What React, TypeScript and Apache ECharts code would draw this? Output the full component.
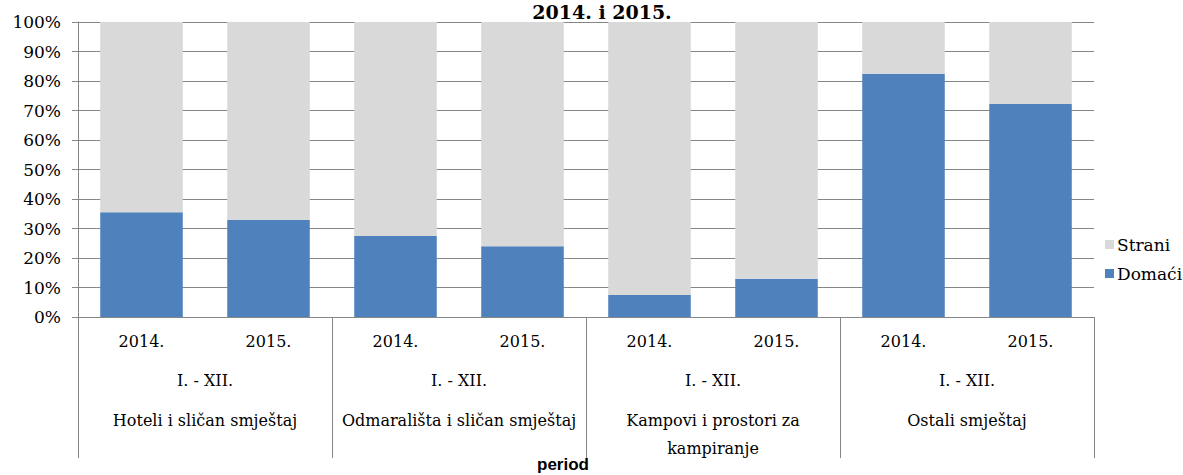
import React, { useEffect, useRef } from "react";
import * as echarts from "echarts";

const years = ["2014.", "2015.", "2014.", "2015.", "2014.", "2015.", "2014.", "2015."];
const periods = ["I. - XII.", "I. - XII.", "I. - XII.", "I. - XII."];
const groups = [
  "Hoteli i sličan smještaj",
  "Odmarališta i sličan smještaj",
  "Kampovi i prostori za\nkampiranje",
  "Ostali smještaj",
];
const domaci = [35.5, 33, 27.5, 24, 7.5, 13, 82.5, 72.2];
const strani = [64.5, 67, 72.5, 76, 92.5, 87, 17.5, 27.8];

const SERIF = "DejaVu Serif";
const GRAY = "#868686";
const FS = 17;
const XFS = 16;

export default function App() {
  const ref = useRef<HTMLDivElement>(null);
  useEffect(() => {
    document.body.style.margin = "0";
    const chart = echarts.init(ref.current!, undefined, { renderer: "svg" });
    chart.setOption({
      animation: false,
      textStyle: { fontFamily: SERIF },
      title: {
        text: "2014. i 2015.",
        left: 597,
        textAlign: "center",
        top: -3,
        textStyle: { fontFamily: SERIF, fontSize: 19, fontWeight: "bold", color: "#000" },
      },
      legend: {
        orient: "vertical",
        left: 1100,
        top: 231,
        data: ["Strani", "Domaći"],
        icon: "rect",
        itemWidth: 9,
        itemHeight: 9,
        itemGap: 12,
        textStyle: { fontFamily: SERIF, fontSize: FS, color: "#000", padding: [0, 0, 0, -2] },
      },
      grid: { left: 78, right: 89, top: 22, bottom: 158 },
      xAxis: [
        {
          type: "category",
          data: years,
          position: "bottom",
          axisLine: { show: true, lineStyle: { color: GRAY, width: 1 } },
          axisTick: { show: false },
          axisLabel: { interval: 0, margin: 16, fontSize: XFS, color: "#000", fontFamily: SERIF },
        },
        {
          type: "category",
          data: periods,
          position: "bottom",
          axisLine: { show: false },
          axisTick: { show: true, length: 141, interval: 0, lineStyle: { color: GRAY, width: 1 } },
          axisLabel: { interval: 0, margin: 55, fontSize: XFS, color: "#000", fontFamily: SERIF },
        },
        {
          type: "category",
          data: groups,
          position: "bottom",
          axisLine: { show: false },
          axisTick: { show: false },
          axisLabel: {
            interval: 0,
            margin: 89,
            fontSize: XFS,
            lineHeight: 28,
            color: "#000",
            fontFamily: SERIF,
          },
        },
      ],
      yAxis: {
        type: "value",
        min: 0,
        max: 100,
        interval: 10,
        axisLine: { show: true, lineStyle: { color: GRAY, width: 1 } },
        axisTick: { show: true, length: 6, lineStyle: { color: GRAY } },
        splitLine: { show: true, lineStyle: { color: GRAY, width: 1 } },
        axisLabel: {
          formatter: "{value}%",
          fontSize: FS,
          color: "#000",
          fontFamily: SERIF,
          margin: 17,
        },
      },
      graphic: [
        {
          type: "text",
          x: 563,
          y: 456,
          style: {
            text: "period",
            fontFamily: "Liberation Sans",
            fontWeight: "bold",
            fontSize: 17,
            fill: "#000",
            textAlign: "center",
          },
        },
      ],
      series: [
        {
          name: "Domaći",
          type: "bar",
          stack: "total",
          barWidth: "65%",
          data: domaci,
          itemStyle: { color: "#4F81BD" },
        },
        {
          name: "Strani",
          type: "bar",
          stack: "total",
          barWidth: "65%",
          data: strani,
          itemStyle: { color: "#D9D9D9" },
        },
      ],
    });
    return () => chart.dispose();
  }, []);
  return <div ref={ref} style={{ width: 1183, height: 475 }} />;
}
